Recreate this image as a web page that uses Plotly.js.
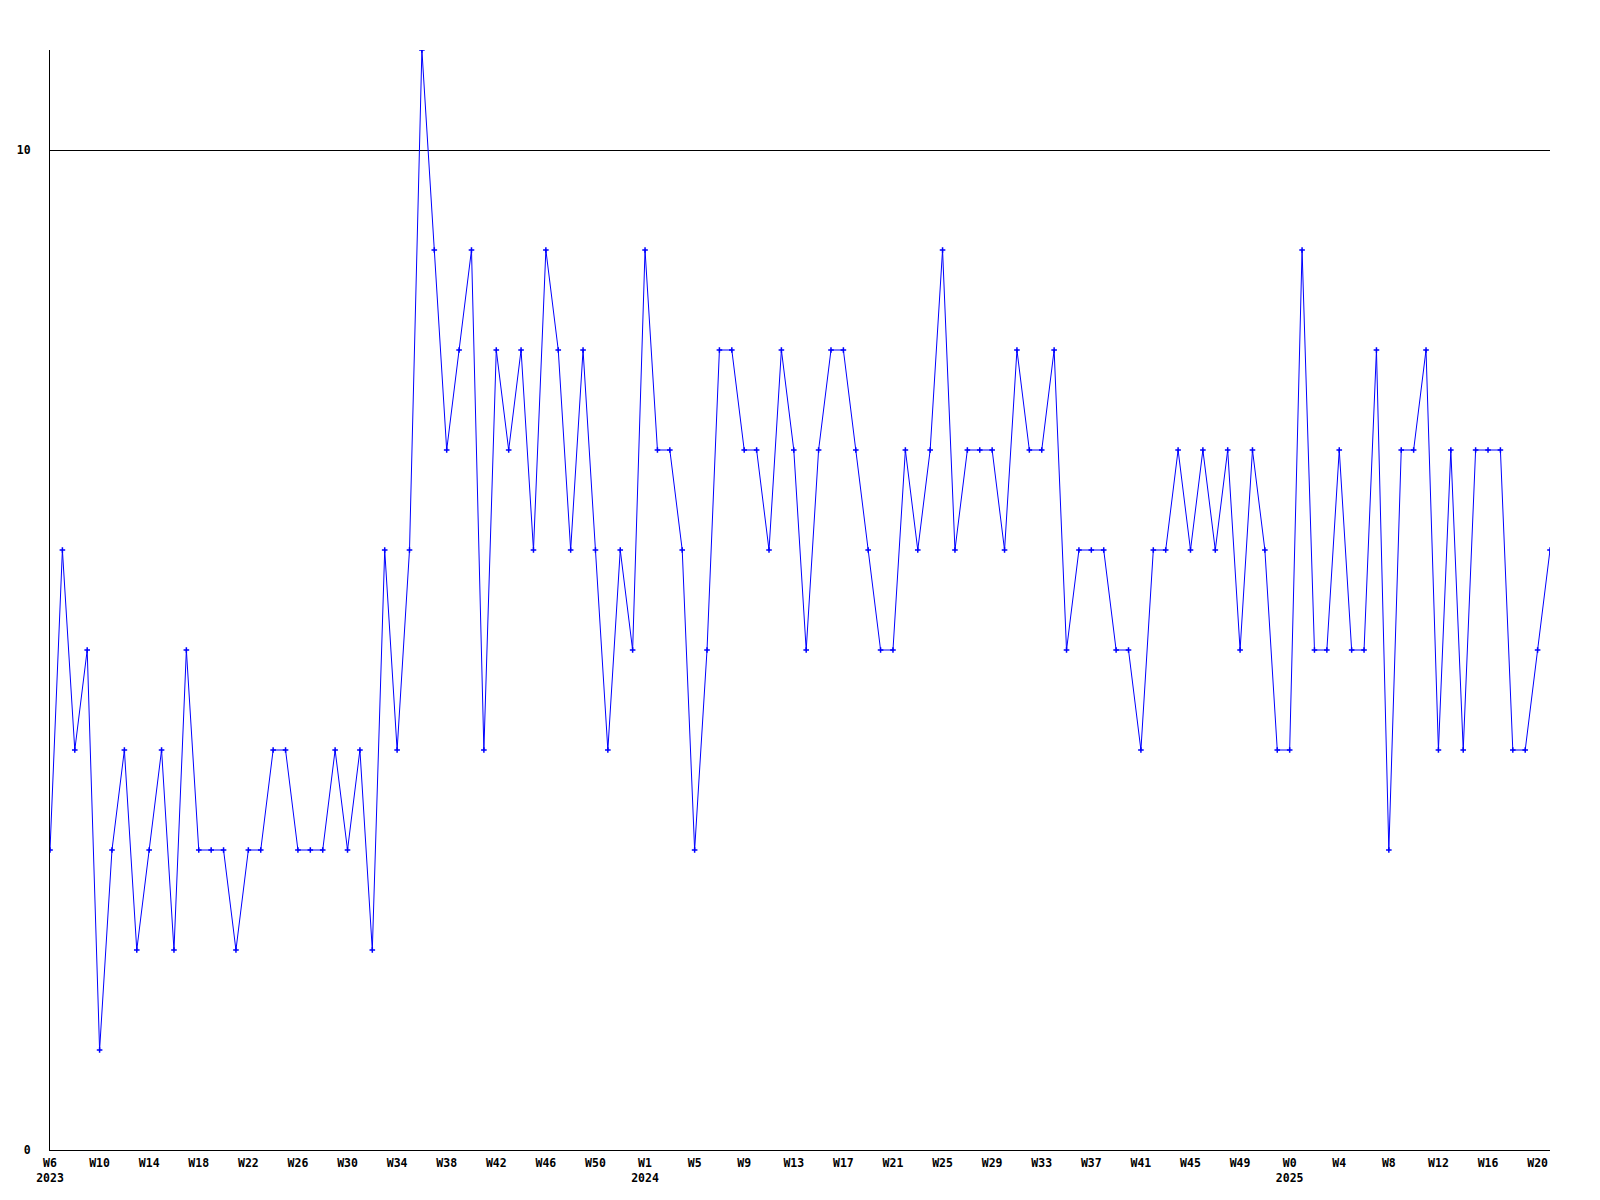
<!DOCTYPE html>
<html>
<head>
<meta charset="utf-8">
<script src="https://cdn.plot.ly/plotly-3.0.1.min.js"></script>
<style>html,body{margin:0;padding:0;background:#fff;}#chart{width:1600px;height:1200px;}</style>
</head>
<body>
<div id="chart"></div>
<script>
// Weekly values, one per week starting 2023 W6
const values = [
  3,6,4,5,1,3,4,2,3,4,
  2,5,3,3,3,2,3,3,4,4,
  3,3,3,4,3,4,2,6,4,6,
  11,9,7,8,9,4,8,7,8,6,
  9,8,6,8,6,4,6,5,9,7,
  7,6,3,5,8,8,7,7,6,8,
  7,5,7,8,8,7,6,5,5,7,
  6,7,9,6,7,7,7,6,8,7,
  7,8,5,6,6,6,5,5,4,6,
  6,7,6,7,6,7,5,7,6,4,
  4,9,5,5,7,5,5,8,3,7,
  7,8,4,7,4,7,7,7,4,4,
  5,6
];
// Labelled every 4th week
const weekLabels = ["W6","W10","W14","W18","W22","W26","W30","W34","W38","W42","W46","W50",
  "W1","W5","W9","W13","W17","W21","W25","W29","W33","W37","W41","W45","W49",
  "W0","W4","W8","W12","W16","W20"];
const yearLabels = {"0":"2023","12":"2024","25":"2025"};
const yTicks = [0,10];

const xs = values.map((_, i) => i);
const tickvals = weekLabels.map((_, i) => i * 4);
const ticktext = weekLabels.map((w, i) => yearLabels[i] ? w + "<br>" + yearLabels[i] : w);

const font = {family: "DejaVu Sans Mono, monospace", size: 11.5, color: "#000", weight: "bold"};

Plotly.newPlot("chart", [{
  x: xs, y: values, type: "scatter", mode: "lines+markers",
  line: {color: "#0000ff", width: 1},
  marker: {color: "#0000ff", symbol: "cross-thin", size: 4, line: {color: "#0000ff", width: 1.5}},
  hoverinfo: "skip"
}], {
  width: 1600, height: 1200,
  margin: {l: 50, r: 50, t: 50, b: 50},
  paper_bgcolor: "#fff", plot_bgcolor: "#fff",
  showlegend: false,
  font: font,
  xaxis: {
    range: [0, values.length - 1], tickmode: "array", tickvals: tickvals, ticktext: ticktext,
    showgrid: false, zeroline: false, showline: true, linecolor: "#000", linewidth: 1,
    ticks: "", tickfont: font, ticklabelstandoff: 2
  },
  yaxis: {
    range: [0, 11], tickmode: "array", tickvals: yTicks, ticktext: yTicks.map(String),
    showgrid: true, gridcolor: "#000", gridwidth: 1, zeroline: false,
    showline: true, linecolor: "#000", linewidth: 1, ticks: "", tickfont: font,
    ticklabelstandoff: 16
  }
}, {staticPlot: true});
</script>
</body>
</html>
